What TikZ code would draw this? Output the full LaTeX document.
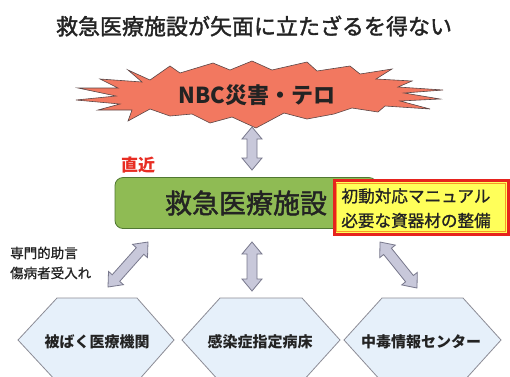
\documentclass[tikz,border=0pt]{standalone}
\usepackage{fontspec}
\setmainfont{Noto Sans CJK JP}
\newfontfamily\jpmed[FakeBold=1.6]{Noto Sans CJK JP}
\newfontfamily\jpsemi[FakeBold=1.0]{Noto Sans CJK JP}
\usetikzlibrary{calc}
\definecolor{boomfill}{RGB}{242,120,96}
\definecolor{boomline}{RGB}{90,70,70}
\definecolor{arrfill}{RGB}{200,200,218}
\definecolor{arrline}{RGB}{120,120,140}
\definecolor{emsfill}{RGB}{143,187,84}
\definecolor{emsline}{RGB}{80,120,50}
\definecolor{noteyellow}{RGB}{255,255,90}
\definecolor{notered}{RGB}{230,35,30}
\definecolor{noteorange}{RGB}{250,150,40}
\definecolor{hexfill}{RGB}{230,240,250}
\definecolor{hexline}{RGB}{140,140,150}
\definecolor{txtdark}{RGB}{35,35,35}
\definecolor{nearred}{RGB}{232,45,35}
\tikzset{
  arrowstyle/.style={fill=arrfill, draw=arrline, line width=0.8pt, line join=miter},
  hexstyle/.style={fill=hexfill, draw=hexline, line width=0.8pt},
  hexlabel/.style={font=\fontsize{15}{18}\selectfont\bfseries, text=txtdark, inner sep=0pt},
  notestyle/.style={font=\jpsemi\fontsize{16.6}{20}\selectfont, text=txtdark, inner sep=0pt},
}
\newcommand{\dblarrow}[2]{%
  \path ($(#1)!12pt!(#2)$) coordinate (da1) ($(#2)!12pt!(#1)$) coordinate (da2);
  \filldraw[arrowstyle] (#1) -- ($(da1)!10pt!90:(#2)$) -- ($(da1)!5pt!90:(#2)$)
    -- ($(da2)!5pt!-90:(#1)$) -- ($(da2)!10pt!-90:(#1)$) -- (#2)
    -- ($(da2)!10pt!90:(#1)$) -- ($(da2)!5pt!90:(#1)$)
    -- ($(da1)!5pt!-90:(#2)$) -- ($(da1)!10pt!-90:(#2)$) -- cycle;}
\begin{document}
\begin{tikzpicture}[x=1pt,y=-1pt]
\useasboundingbox (0,0) rectangle (510,376);
\clip (0,0) rectangle (510,376);
\fill[white] (0,0) rectangle (510,376);

% title
\node[font=\jpmed\fontsize{22}{26}\selectfont, text=txtdark, inner sep=0pt] (title) at (254,26) {救急医療施設が矢面に立たざるを得ない};

% explosion
\filldraw[fill=boomfill, draw=boomline, line width=0.6pt, line join=miter]
  (128,70) -- (150,80) -- (170,66) -- (180,73) -- (213,63) -- (230,70) -- (252,61)
  -- (272,70) -- (307,62) -- (317,71) -- (350,66) -- (360,74) -- (392,69) -- (376,79)
  -- (412,81) -- (398,87) -- (443,90) -- (404,93) -- (440,99) -- (400,101)
  -- (430,109) -- (385,106) -- (378,112) -- (352,108) -- (334,114) -- (307,119)
  -- (284,113) -- (256,128) -- (232,117) -- (210,123) -- (192,114) -- (170,116)
  -- (150,109) -- (128,121) -- (132,110) -- (98,110) -- (120,104) -- (76,100)
  -- (116,96) -- (78,88) -- (118,88) -- (100,79) -- (142,82) -- cycle;
\node[font=\fontsize{22}{26}\selectfont\bfseries, text=txtdark, inner sep=0pt] (nbc) at (257,95) {NBC災害・テロ};

% emergency facility
\node[font=\fontsize{17}{20}\selectfont\bfseries, text=nearred, inner sep=0pt] (near) at (138,165) {直近};
\node[draw=emsline, fill=emsfill, line width=0.8pt, rounded corners=8pt,
      minimum width=262pt, minimum height=51pt, inner sep=0pt,
      font=\jpmed\fontsize{27}{30}\selectfont, text=txtdark] (ems) at (246,203) {救急医療施設};

% note box
\filldraw[draw=notered, fill=noteyellow, line width=3pt] (334,180.5) rectangle (508,234.5);
\draw[noteorange, line width=1.2pt] (336.8,183.3) rectangle (505.2,231.7);
\node[notestyle] (notetop) at (416,196) {初動対応マニュアル};
\node[notestyle] (notebot) at (416,220.5) {必要な資器材の整備};

% side label
\node[font=\jpsemi\fontsize{13.5}{20}\selectfont, text=txtdark, inner sep=0pt, anchor=west] (advice1) at (10,253) {専門的助言};
\node[font=\jpsemi\fontsize{13.5}{20}\selectfont, text=txtdark, inner sep=0pt, anchor=west] (advice2) at (10,273) {傷病者受入れ};

% hexagons
\filldraw[hexstyle] (18,340) -- (57,298) -- (137,298) -- (174,340) -- (137,382) -- (57,382) -- cycle;
\filldraw[hexstyle] (182,340) -- (220,298) -- (302,298) -- (340,340) -- (302,382) -- (220,382) -- cycle;
\filldraw[hexstyle] (344,340) -- (382,298) -- (463,298) -- (501,340) -- (463,382) -- (382,382) -- cycle;
\node[hexlabel] (hexa) at (97,342) {被ばく医療機関};
\node[hexlabel] (hexb) at (260,342) {感染症指定病床};
\node[hexlabel] (hexc) at (421,342) {中毒情報センター};

% arrows
\coordinate (a1s) at (252,127);
\coordinate (a1e) at (252,170);
\coordinate (a2s) at (148,242);
\coordinate (a2e) at (108,287);
\coordinate (a3s) at (252,242);
\coordinate (a3e) at (252,291);
\coordinate (a4s) at (380,242);
\coordinate (a4e) at (417,288);
\dblarrow{a1s}{a1e}
\dblarrow{a2s}{a2e}
\dblarrow{a3s}{a3e}
\dblarrow{a4s}{a4e}
\end{tikzpicture}
\end{document}
